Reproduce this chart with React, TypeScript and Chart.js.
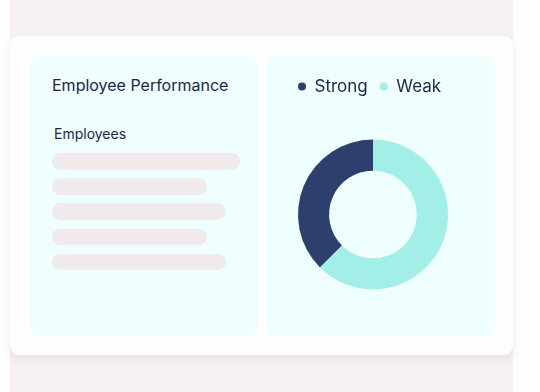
import React, { useEffect, useRef } from "react";
import { Chart, registerables } from "chart.js";

Chart.register(...registerables);

const categories = ["Strong", "Weak"];
const values = [37.5, 62.5];
const colors = ["#2c3f6d", "#a3efe7"];
const placeholderWidths = [188, 155, 174, 155, 174];

const FONT = "Inter, 'Noto Sans', sans-serif";
const TEXT = "#1d2645";

function Doughnut() {
  const ref = useRef<HTMLCanvasElement | null>(null);
  useEffect(() => {
    if (!ref.current) return;
    const chart = new Chart(ref.current, {
      type: "doughnut",
      data: {
        labels: categories,
        datasets: [
          {
            data: values,
            backgroundColor: colors,
            borderWidth: 0,
            hoverOffset: 0,
            radius: 75,
          },
        ],
      },
      options: {
        animation: false,
        responsive: false,
        maintainAspectRatio: false,
        cutout: "58.5%",
        rotation: -135,
        layout: { padding: { left: 20, right: 35, top: 10, bottom: 12 } },
        plugins: {
          tooltip: { enabled: false },
          legend: {
            position: "top",
            align: "start",
            labels: {
              usePointStyle: true,
              pointStyle: "circle",
              boxHeight: 5.7,
              pointStyleWidth: 8,
              padding: 12,
              color: TEXT,
              font: { family: FONT, size: 17 },
            },
          },
        },
      },
    });
    return () => chart.destroy();
  }, []);
  return <canvas ref={ref} width={229} height={280} style={{ display: "block", width: 229, height: 280 }} />;
}

export default function App() {
  return (
    <div
      style={{
        position: "absolute",
        left: 0,
        top: 0,
        width: 540,
        height: 392,
        background: "#fefefe",
        overflow: "hidden",
        fontFamily: FONT,
      }}
    >
      <div style={{ position: "absolute", left: 10, top: 0, width: 503, height: 392, background: "#f7f1f2" }} />
      <div
        style={{
          position: "absolute",
          left: 10,
          top: 36,
          width: 503,
          height: 319,
          background: "#fdfdfd",
          borderRadius: 9,
          boxShadow: "0 4px 10px rgba(120,100,100,0.12)",
        }}
      />
      <div
        style={{
          position: "absolute",
          left: 30,
          top: 56,
          width: 228,
          height: 280,
          background: "#effefe",
          borderRadius: 9,
        }}
      >
        <div style={{ position: "absolute", left: 22, top: 19, fontSize: 16, color: TEXT, fontWeight: 400, whiteSpace: "nowrap" }}>
          Employee Performance
        </div>
        <div style={{ position: "absolute", left: 24, top: 69, fontSize: 14, color: TEXT, whiteSpace: "nowrap" }}>Employees</div>
        {placeholderWidths.map((w, i) => (
          <div
            key={i}
            style={{
              position: "absolute",
              left: 22,
              top: 97 + i * 25.2,
              width: w,
              height: 16.5,
              borderRadius: 9,
              background: "#f0eaec",
            }}
          />
        ))}
      </div>
      <div
        style={{
          position: "absolute",
          left: 266,
          top: 56,
          width: 229,
          height: 280,
          background: "#effefe",
          borderRadius: 9,
          overflow: "hidden",
        }}
      >
        <Doughnut />
      </div>
    </div>
  );
}
